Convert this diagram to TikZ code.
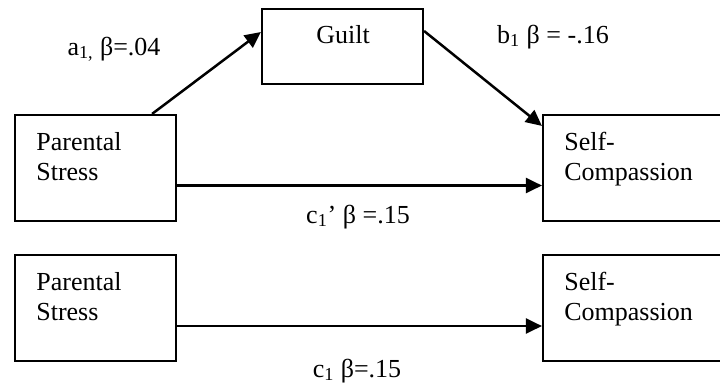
\documentclass[tikz,border=0pt]{standalone}
\usepackage{fontspec}
\setmainfont{Liberation Serif}
\usetikzlibrary{arrows.meta}

\begin{document}
\begin{tikzpicture}[x=0.02cm, y=-0.02cm]
    \useasboundingbox (0,0) rectangle (720,383);
    \clip (0,0) rectangle (720,383);
    {
        \tikzset{every node/.style = {font=\fontsize{14.8pt}{17.6pt}\selectfont, inner sep=0pt}}
        \tikzset{box/.style = {draw, line width=0.044cm, minimum width=3.22cm, minimum height=2.12cm}}
        \tikzset{boxtext/.style = {anchor=base west}}

        % boxes
        \node[box] (ps1) at (95.5, 168) {};
        \node[box, minimum height=1.5cm] (guilt) at (342.5, 46.5) {};
        \node[box, minimum width=3.6cm] (sc1) at (633, 168) {};
        \node[box] (ps2) at (95.5, 308) {};
        \node[box, minimum width=3.6cm] (sc2) at (633, 308) {};

        % box texts
        \node[boxtext] (ps1txt) at (36, 150) {\parbox[t]{3cm}{Parental\\Stress}};
        \node[anchor=base] (guilttxt) at (343, 43) {Guilt};
        \node[boxtext] (sc1txt) at (564, 150) {\parbox[t]{3cm}{Self-\\Compassion}};
        \node[boxtext] (ps2txt) at (36, 290) {\parbox[t]{3cm}{Parental\\Stress}};
        \node[boxtext] (sc2txt) at (564, 290) {\parbox[t]{3cm}{Self-\\Compassion}};

        % path labels
        \node[anchor=base] (alab) at (114, 55) {a\textsubscript{1,} β=.04};
        \node[anchor=base] (blab) at (553, 43) {b\textsubscript{1} β = -.16};
        \node[anchor=base] (cplab) at (358, 223) {c\textsubscript{1}’ β =.15};
        \node[anchor=base] (clab) at (357, 377) {c\textsubscript{1} β=.15};
    }

    \tikzset{arrow/.style = {line width=0.05cm, -{Triangle[length=0.32cm, width=0.3cm]}}}

    \draw[arrow] ([xshift=-0.5cm]ps1.north east) -- ([yshift=0.29cm]guilt.west);
    \draw[arrow] ([yshift=0.31cm]guilt.east) -- ([yshift=-0.24cm]sc1.north west);
    \draw[arrow] ([yshift=-0.35cm]ps1.east) -- ([yshift=-0.35cm]sc1.west);
    \draw[arrow] ([yshift=-0.36cm]ps2.east) -- ([yshift=-0.36cm]sc2.west);

\end{tikzpicture}
\end{document}
